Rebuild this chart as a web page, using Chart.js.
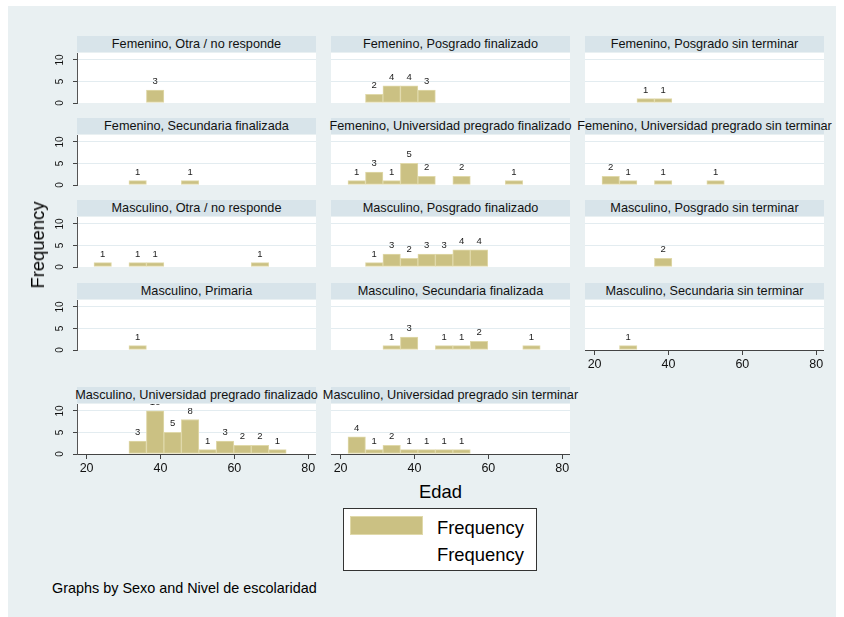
<!DOCTYPE html>
<html lang="es">
<head>
<meta charset="utf-8">
<title>Histograma de edad por sexo y nivel de escolaridad</title>
<script src="https://cdn.jsdelivr.net/npm/chart.js@4.4.0/dist/chart.umd.min.js"></script>
<style>
    body {
        margin: 0;
        width: 844px;
        height: 617px;
        background: #fff;
        overflow: hidden;
        position: relative;
        font-family: "Liberation Sans", Arial, sans-serif;
    }
    .fondo {
        position: absolute;
        left: 8px;
        top: 6px;
        width: 828px;
        height: 611px;
        background: #e9f0f2;
    }
    .titulo {
        position: absolute;
        height: 16px;
        line-height: 16px;
        background: #d8e4ea;
        font-size: 12.7px;
        color: #111;
        white-space: nowrap;
        display: flex;
        justify-content: center;
    }
    .panel {
        position: absolute;
    }
    .texto {
        position: absolute;
        white-space: nowrap;
        color: #000;
    }
    .leyenda {
        position: absolute;
        left: 343px;
        top: 508px;
        width: 192px;
        height: 61px;
        background: #fff;
        border: 1px solid #333;
    }
    .muestra {
        position: absolute;
        left: 6px;
        top: 7px;
        width: 71px;
        height: 17px;
        background: #cbc183;
        border: 1px solid #e0d9aa;
    }
</style>
</head>
<body>
<div class="fondo"></div>
<div id="paneles"></div>

<div class="texto" style="left: 38px; top: 245px; font-size: 18.4px; transform: translate(-50%, -50%) rotate(-90deg);">Frequency</div>
<div class="texto" style="left: 419px; top: 481px; font-size: 18.4px;">Edad</div>

<div class="leyenda">
    <div class="muestra"></div>
    <div class="texto" style="left: 93px; top: 8px; font-size: 18.4px;">Frequency</div>
    <div class="texto" style="left: 93px; top: 35px; font-size: 18.4px;">Frequency</div>
</div>

<div class="texto" style="left: 52px; top: 580px; font-size: 14.4px;">Graphs by Sexo and Nivel de escolaridad</div>

<script>
// Titulos de cada panel (orden de lectura)
const panelTitles = [
    'Femenino, Otra / no responde',
    'Femenino, Posgrado finalizado',
    'Femenino, Posgrado sin terminar',
    'Femenino, Secundaria finalizada',
    'Femenino, Universidad pregrado finalizado',
    'Femenino, Universidad pregrado sin terminar',
    'Masculino, Otra / no responde',
    'Masculino, Posgrado finalizado',
    'Masculino, Posgrado sin terminar',
    'Masculino, Primaria',
    'Masculino, Secundaria finalizada',
    'Masculino, Secundaria sin terminar',
    'Masculino, Universidad pregrado finalizado',
    'Masculino, Universidad pregrado sin terminar'
];

// Intervalos de edad (11 intervalos comunes)
const edadInicio = 22;
const anchoIntervalo = 4.73;

// Frecuencias por intervalo
const femOtra = [0, 0, 0, 3, 0, 0, 0, 0, 0, 0, 0];
const femPosgradoFin = [0, 2, 4, 4, 3, 0, 0, 0, 0, 0, 0];
const femPosgradoSin = [0, 0, 1, 1, 0, 0, 0, 0, 0, 0, 0];
const femSecundariaFin = [0, 0, 1, 0, 0, 1, 0, 0, 0, 0, 0];
const femUnivFin = [1, 3, 1, 5, 2, 0, 2, 0, 0, 1, 0];
const femUnivSin = [2, 1, 0, 1, 0, 0, 1, 0, 0, 0, 0];
const mascOtra = [1, 0, 1, 1, 0, 0, 0, 0, 0, 1, 0];
const mascPosgradoFin = [0, 1, 3, 2, 3, 3, 4, 4, 0, 0, 0];
const mascPosgradoSin = [0, 0, 0, 2, 0, 0, 0, 0, 0, 0, 0];
const mascPrimaria = [0, 0, 1, 0, 0, 0, 0, 0, 0, 0, 0];
const mascSecundariaFin = [0, 0, 1, 3, 0, 1, 1, 2, 0, 0, 1];
const mascSecundariaSin = [0, 1, 0, 0, 0, 0, 0, 0, 0, 0, 0];
const mascUnivFin = [0, 0, 3, 10, 5, 8, 1, 3, 2, 2, 1];
const mascUnivSin = [4, 1, 2, 1, 1, 1, 1, 0, 0, 0, 0];

const frecuencias = [
    femOtra, femPosgradoFin, femPosgradoSin,
    femSecundariaFin, femUnivFin, femUnivSin,
    mascOtra, mascPosgradoFin, mascPosgradoSin,
    mascPrimaria, mascSecundariaFin, mascSecundariaSin,
    mascUnivFin, mascUnivSin
];

const xTicks = [20, 40, 60, 80];
const yTicks = [0, 5, 10];

// Geometria
const colLeft = [77, 331, 585];
const rowTitleTop = [36, 118, 200, 283, 387];
const plotW = 239;
const plotH = 50;
const ejeY = 30;
const ejeX = 22;

const fuente = '"Liberation Sans", Arial, sans-serif';
const colorBarra = '#cbc183';
const colorBorde = '#e0d9aa';
const colorGrid = '#e3ecf0';
const transparente = 'rgba(0,0,0,0)';

// Fondo blanco del area de trazado
const fondoBlanco = {
    id: 'fondoBlanco',
    beforeDraw(chart) {
        const { ctx, chartArea } = chart;
        ctx.save();
        ctx.fillStyle = '#fff';
        ctx.fillRect(chartArea.left, chartArea.top, chartArea.width, chartArea.height);
        ctx.restore();
    }
};

// Etiquetas de frecuencia encima de cada barra
const etiquetas = {
    id: 'etiquetas',
    afterDatasetsDraw(chart) {
        const ctx = chart.ctx;
        const meta = chart.getDatasetMeta(0);
        const data = chart.data.datasets[0].data;
        ctx.save();
        ctx.font = '9.5px ' + fuente;
        ctx.fillStyle = '#222';
        ctx.textAlign = 'center';
        ctx.textBaseline = 'alphabetic';
        meta.data.forEach((bar, i) => {
            if (data[i].y > 0) ctx.fillText(data[i].y, bar.x, bar.y - 6);
        });
        ctx.restore();
    }
};

const conDatos = ctx => ctx.raw && ctx.raw.y > 0;

const contenedor = document.getElementById('paneles');

frecuencias.forEach((counts, i) => {
    const row = Math.floor(i / 3);
    const col = i % 3;
    const hasY = col === 0;
    const hasX = i >= 11;
    const plotLeft = colLeft[col];
    const plotTop = rowTitleTop[row] + 17;

    const titulo = document.createElement('div');
    titulo.className = 'titulo';
    titulo.style.left = plotLeft + 'px';
    titulo.style.top = rowTitleTop[row] + 'px';
    titulo.style.width = plotW + 'px';
    titulo.innerHTML = '<span>' + panelTitles[i] + '</span>';

    const canvas = document.createElement('canvas');
    canvas.className = 'panel';
    const extraAbajo = hasX ? ejeX : (hasY ? 4 : 0);
    canvas.width = plotW + (hasY ? ejeY : 0);
    canvas.height = plotH + extraAbajo;
    canvas.style.left = (plotLeft - (hasY ? ejeY : 0)) + 'px';
    canvas.style.top = plotTop + 'px';

    contenedor.appendChild(canvas);
    contenedor.appendChild(titulo);

    const puntos = counts.map((c, k) => ({ x: edadInicio + anchoIntervalo * (k + 0.5), y: c }));

    new Chart(canvas.getContext('2d'), {
        type: 'bar',
        data: {
            datasets: [{
                data: puntos,
                backgroundColor: ctx => (conDatos(ctx) ? colorBarra : transparente),
                borderColor: ctx => (conDatos(ctx) ? colorBorde : transparente),
                borderWidth: ctx => (conDatos(ctx) ? 1 : 0),
                borderSkipped: false,
                categoryPercentage: 1,
                barPercentage: 1
            }]
        },
        options: {
            responsive: false,
            animation: false,
            events: [],
            layout: {
                autoPadding: false,
                padding: { bottom: hasX ? 0 : extraAbajo }
            },
            plugins: {
                legend: { display: false },
                tooltip: { enabled: false }
            },
            scales: {
                x: {
                    type: 'linear',
                    min: 17.4,
                    max: 82.1,
                    offset: false,
                    display: hasX,
                    grid: {
                        offset: false,
                        drawOnChartArea: false,
                        tickLength: 5,
                        tickColor: '#444'
                    },
                    border: { color: '#444', width: 1 },
                    ticks: {
                        color: '#111',
                        padding: 2,
                        font: { family: fuente, size: 12.5 },
                        maxRotation: 0
                    },
                    afterBuildTicks: s => { s.ticks = xTicks.map(v => ({ value: v })); },
                    afterFit: s => { s.height = hasX ? ejeX : 0; s.paddingLeft = 0; s.paddingRight = 0; }
                },
                y: {
                    min: 0,
                    max: 11.6,
                    display: true,
                    grid: {
                        color: ctx => (ctx.tick && ctx.tick.value === 0 ? transparente : colorGrid),
                        drawTicks: hasY,
                        tickLength: 4,
                        tickColor: '#444'
                    },
                    border: { display: hasY, color: '#555', width: 1 },
                    ticks: {
                        display: hasY,
                        color: '#111',
                        padding: 7,
                        crossAlign: 'center',
                        minRotation: 90,
                        maxRotation: 90,
                        font: { family: fuente, size: 10 }
                    },
                    afterBuildTicks: s => { s.ticks = yTicks.map(v => ({ value: v })); },
                    afterFit: s => { s.width = hasY ? ejeY : 0; s.paddingTop = 0; s.paddingBottom = 0; }
                }
            }
        },
        plugins: [fondoBlanco, etiquetas]
    });
});
</script>
</body>
</html>
